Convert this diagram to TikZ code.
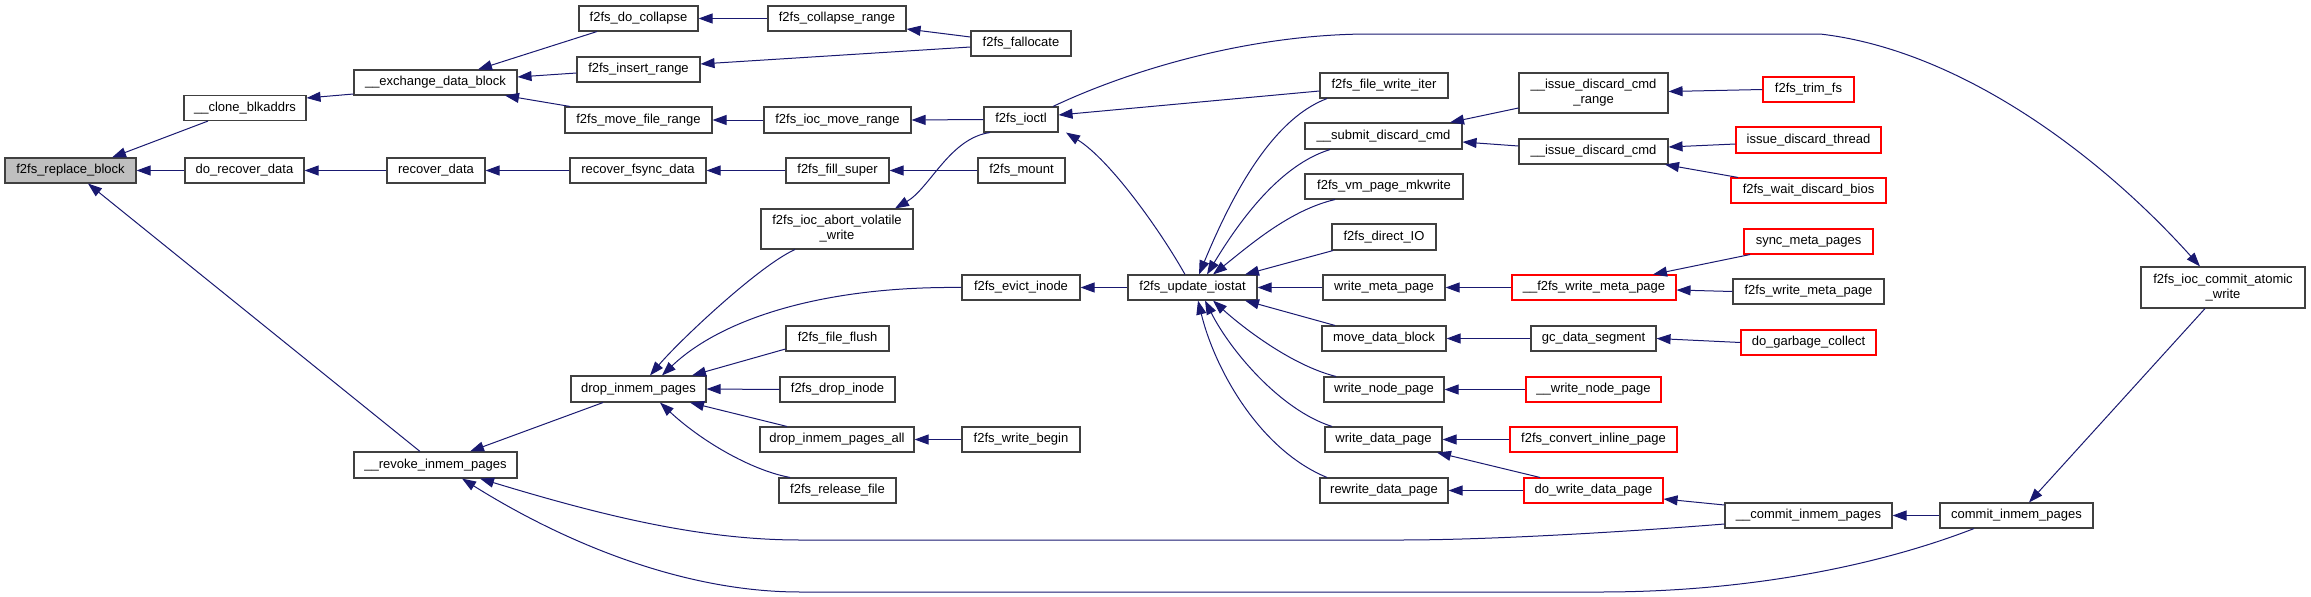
\documentclass[tikz,border=0pt]{standalone}
\usepackage{fontspec}
\setmainfont{Liberation Sans}
\usetikzlibrary{arrows.meta}
\definecolor{mblue}{HTML}{191970}
\definecolor{bgray}{HTML}{404040}
\definecolor{rootfill}{HTML}{BFBFBF}
\tikzset{
  box/.style={draw=bgray, fill=white, line width=1.1pt, inner sep=0pt, minimum height=25pt,
    font=\fontsize{13}{15}\selectfont, align=center},
  redbox/.style={box, draw=red},
  edge/.style={draw=mblue, line width=1pt, {Triangle[length=14pt,width=10pt]}-}
}
\begin{document}
\begin{tikzpicture}[x=1pt,y=-1pt]
\useasboundingbox (0,0) rectangle (2311,597);
% nodes
\node[box, fill=rootfill, minimum width=131pt] (R) at (70.5,170.5) {f2fs\_replace\_block};
\node[box, minimum width=122pt] (clone) at (245,108) {\_\_clone\_blkaddrs};
\node[box, minimum width=119pt] (dorec) at (244.5,170.5) {do\_recover\_data};
\node[box, minimum width=163pt, minimum height=26pt] (revoke) at (435.5,465) {\_\_revoke\_inmem\_pages};
\node[box, minimum width=163pt] (exch) at (435.5,82.5) {\_\_exchange\_data\_block};
\node[box, minimum width=98pt] (recdata) at (436,170.5) {recover\_data};
\node[box, minimum width=135pt, minimum height=26pt] (drop) at (638.5,389) {drop\_inmem\_pages};
\node[box, minimum width=119pt] (docol) at (638.5,18.5) {f2fs\_do\_collapse};
\node[box, minimum width=123pt] (ins) at (638.5,69.5) {f2fs\_insert\_range};
\node[box, minimum width=147pt, minimum height=26pt] (mfr) at (638.5,120) {f2fs\_move\_file\_range};
\node[box, minimum width=136pt] (rfs) at (638,170.5) {recover\_fsync\_data};
\node[box, minimum width=138pt] (colr) at (837,18.5) {f2fs\_collapse\_range};
\node[box, minimum width=147pt, minimum height=26pt] (imr) at (837.5,120) {f2fs\_ioc\_move\_range};
\node[box, minimum width=103pt] (fill) at (837.5,170.5) {f2fs\_fill\_super};
\node[box, minimum width=152pt, minimum height=40pt] (abort) at (837,229) {f2fs\_ioc\_abort\_volatile\\\_write};
\node[box, minimum width=118pt] (evict) at (1021,287.5) {f2fs\_evict\_inode};
\node[box, minimum width=103pt] (flush) at (837.5,338.5) {f2fs\_file\_flush};
\node[box, minimum width=115pt] (dropi) at (837.5,389.5) {f2fs\_drop\_inode};
\node[box, minimum width=154pt] (dall) at (837,439.5) {drop\_inmem\_pages\_all};
\node[box, minimum width=117pt] (rel) at (837.5,490.5) {f2fs\_release\_file};
\node[box, minimum width=100pt] (fall) at (1021,43.5) {f2fs\_fallocate};
\node[box, minimum width=74pt] (ioctl) at (1021,119.5) {f2fs\_ioctl};
\node[box, minimum width=87pt] (mount) at (1021.5,170.5) {f2fs\_mount};
\node[box, minimum width=118pt] (wb) at (1021,439.5) {f2fs\_write\_begin};
\node[box, minimum width=129pt] (ios) at (1192.5,287.5) {f2fs\_update\_iostat};
\node[box, minimum width=128pt] (fwi) at (1384,85.5) {f2fs\_file\_write\_iter};
\node[box, minimum width=157pt, minimum height=26pt] (sdc) at (1383.5,136) {\_\_submit\_discard\_cmd};
\node[box, minimum width=158pt] (vm) at (1384,186.5) {f2fs\_vm\_page\_mkwrite};
\node[box, minimum width=104pt, minimum height=26pt] (dio) at (1384,237) {f2fs\_direct\_IO};
\node[box, minimum width=122pt] (wmp) at (1384,287.5) {write\_meta\_page};
\node[box, minimum width=124pt] (mdb) at (1384,338.5) {move\_data\_block};
\node[box, minimum width=120pt] (wnp) at (1384,389.5) {write\_node\_page};
\node[box, minimum width=117pt] (wdp) at (1383.5,439.5) {write\_data\_page};
\node[box, minimum width=128pt] (rdp) at (1384,490.5) {rewrite\_data\_page};
\node[box, minimum width=149pt, minimum height=40pt] (idcr) at (1593.5,93) {\_\_issue\_discard\_cmd\\\_range};
\node[box, minimum width=149pt] (idc) at (1593.5,151.5) {\_\_issue\_discard\_cmd};
\node[redbox, minimum width=164pt] (fwmp) at (1594,287.5) {\_\_f2fs\_write\_meta\_page};
\node[box, minimum width=125pt] (gcd) at (1593.5,338.5) {gc\_data\_segment};
\node[redbox, minimum width=135pt] (wnp2) at (1593.5,389.5) {\_\_write\_node\_page};
\node[redbox, minimum width=167pt] (conv) at (1593.5,439.5) {f2fs\_convert\_inline\_page};
\node[redbox, minimum width=139pt] (dwdp) at (1593.5,490.5) {do\_write\_data\_page};
\node[redbox, minimum width=91pt] (trim) at (1808.5,89.5) {f2fs\_trim\_fs};
\node[redbox, minimum width=145pt, minimum height=26pt] (idt) at (1808.5,140) {issue\_discard\_thread};
\node[redbox, minimum width=155pt] (wdb) at (1808.5,190.5) {f2fs\_wait\_discard\_bios};
\node[redbox, minimum width=129pt] (smp) at (1808.5,241.5) {sync\_meta\_pages};
\node[box, minimum width=151pt] (f2wmp) at (1808.5,291.5) {f2fs\_write\_meta\_page};
\node[redbox, minimum width=135pt] (gc) at (1808.5,342.5) {do\_garbage\_collect};
\node[box, minimum width=167pt] (cimp) at (1808.5,515.5) {\_\_commit\_inmem\_pages};
\node[box, minimum width=153pt] (cip) at (2016.5,515.5) {commit\_inmem\_pages};
\node[box, minimum width=164pt, minimum height=41pt] (catom) at (2223,287.5) {f2fs\_ioc\_commit\_atomic\\\_write};
% edges
\draw[edge] ([xshift=41.5pt]R.north) -- ([xshift=-37pt]clone.south);
\draw[edge] (R.east) -- (dorec.west);
\draw[edge] ([xshift=17.5pt]R.south) -- ([xshift=-15.5pt]revoke.north);
\draw[edge] ([yshift=10pt]clone.east) -- ([yshift=-11.5pt]exch.west);
\draw[edge] ([xshift=42.5pt]exch.north) -- ([xshift=-41.5pt]docol.south);
\draw[edge] ([yshift=5.5pt]exch.east) -- ([yshift=-3.5pt]ins.west);
\draw[edge] ([xshift=69.5pt]exch.south) -- ([xshift=-68.5pt]mfr.north);
\draw[edge] (docol.east) -- (colr.west);
\draw[edge] ([yshift=-10.5pt]colr.east) -- ([yshift=6.5pt]fall.west);
\draw[edge] ([yshift=5.5pt]ins.east) -- ([yshift=-3.5pt]fall.west);
\draw[edge] (mfr.east) -- (imr.west);
\draw[edge] (imr.east) -- (ioctl.west);
\draw[edge] (dorec.east) -- (recdata.west);
\draw[edge] (recdata.east) -- (rfs.west);
\draw[edge] (rfs.east) -- (fill.west);
\draw[edge] (fill.east) -- (mount.west);
\draw[edge] ([xshift=58pt]abort.north) .. controls (930,188) and (950,138) .. ([xshift=-31pt]ioctl.south);
\draw[edge] ([xshift=11.5pt]drop.north) .. controls (680,340) and (760,265) .. ([xshift=-42pt]abort.south);
\draw[edge] ([xshift=23.5pt]drop.north) .. controls (720,320) and (820,286) .. (evict.west);
\draw[edge] ([xshift=53.5pt]drop.north) -- ([yshift=-10.5pt]flush.west);
\draw[edge] (drop.east) -- (dropi.west);
\draw[edge] ([xshift=51.5pt]drop.south) -- ([xshift=-50pt]dall.north);
\draw[edge] ([xshift=21.5pt]drop.south) .. controls (700,440) and (750,470) .. ([xshift=-47.5pt]rel.north);
\draw[edge] (dall.east) -- (wb.west);
\draw[edge] ([xshift=34.5pt]revoke.north) -- ([xshift=-35.5pt]drop.south);
\draw[edge] ([xshift=44.5pt]revoke.south) .. controls (600,515) and (700,540) .. (800,540) -- (1400,540) .. controls (1500,540) and (1650,530) .. ([yshift=-8.5pt]cimp.west);
\draw[edge] ([xshift=26.5pt]revoke.south) .. controls (560,540) and (680,592) .. (800,592) -- (1600,592) .. controls (1750,592) and (1880,565) .. ([xshift=-42.5pt]cip.south);
\draw[edge] (evict.east) -- (ios.west);
\draw[edge] ([yshift=4.5pt]ioctl.east) -- ([yshift=-5.5pt]fwi.west);
\draw[edge] ([xshift=45pt]ioctl.south) .. controls (1110,160) and (1160,230) .. ([xshift=-7.5pt]ios.north);
\draw[edge] ([xshift=-23pt]catom.north) .. controls (2100,155) and (1960,50) .. (1820,34) -- (1370,34) .. controls (1250,34) and (1130,70) .. ([xshift=32pt]ioctl.north);
\draw[edge] ([xshift=6.5pt]ios.north) .. controls (1230,200) and (1270,120) .. ([xshift=-57pt]fwi.south);
\draw[edge] ([xshift=14.5pt]ios.north) .. controls (1240,220) and (1280,165) .. ([xshift=-53.5pt]sdc.south);
\draw[edge] ([xshift=20.5pt]ios.north) .. controls (1250,245) and (1290,210) .. ([xshift=-49pt]vm.south);
\draw[edge] ([xshift=52.5pt]ios.north) -- ([xshift=-51pt]dio.south);
\draw[edge] (ios.east) -- (wmp.west);
\draw[edge] ([xshift=52.5pt]ios.south) -- ([xshift=-49pt]mdb.north);
\draw[edge] ([xshift=20.5pt]ios.south) .. controls (1240,325) and (1290,365) .. ([xshift=-48pt]wnp.north);
\draw[edge] ([xshift=12.5pt]ios.south) .. controls (1230,350) and (1280,410) .. ([xshift=-51.5pt]wdp.north);
\draw[edge] ([xshift=5.5pt]ios.south) .. controls (1215,370) and (1260,450) .. ([xshift=-57pt]rdp.north);
\draw[edge] ([xshift=66.5pt]sdc.north) -- ([yshift=-15pt]idcr.west);
\draw[edge] ([yshift=-6pt]sdc.east) -- ([yshift=5.5pt]idc.west);
\draw[edge] ([yshift=1.5pt]idcr.east) -- (trim.west);
\draw[edge] ([yshift=4.5pt]idc.east) -- ([yshift=-4pt]idt.west);
\draw[edge] ([xshift=71.5pt]idc.south) -- ([xshift=-70.5pt]wdb.north);
\draw[edge] (wmp.east) -- (fwmp.west);
\draw[edge] ([xshift=59pt]fwmp.north) -- ([xshift=-58.5pt]smp.south);
\draw[edge] ([yshift=-2.5pt]fwmp.east) -- (f2wmp.west);
\draw[edge] (mdb.east) -- (gcd.west);
\draw[edge] (gcd.east) -- (gc.west);
\draw[edge] (wnp.east) -- (wnp2.west);
\draw[edge] (wdp.east) -- (conv.west);
\draw[edge] ([xshift=53.5pt]wdp.south) -- ([xshift=-53.5pt]dwdp.north);
\draw[edge] (rdp.east) -- (dwdp.west);
\draw[edge] ([yshift=-8.5pt]dwdp.east) -- ([yshift=10.5pt]cimp.west);
\draw[edge] (cimp.east) -- (cip.west);
\draw[edge] ([xshift=12.5pt]cip.north) -- ([xshift=-18pt]catom.south);
\end{tikzpicture}
\end{document}
